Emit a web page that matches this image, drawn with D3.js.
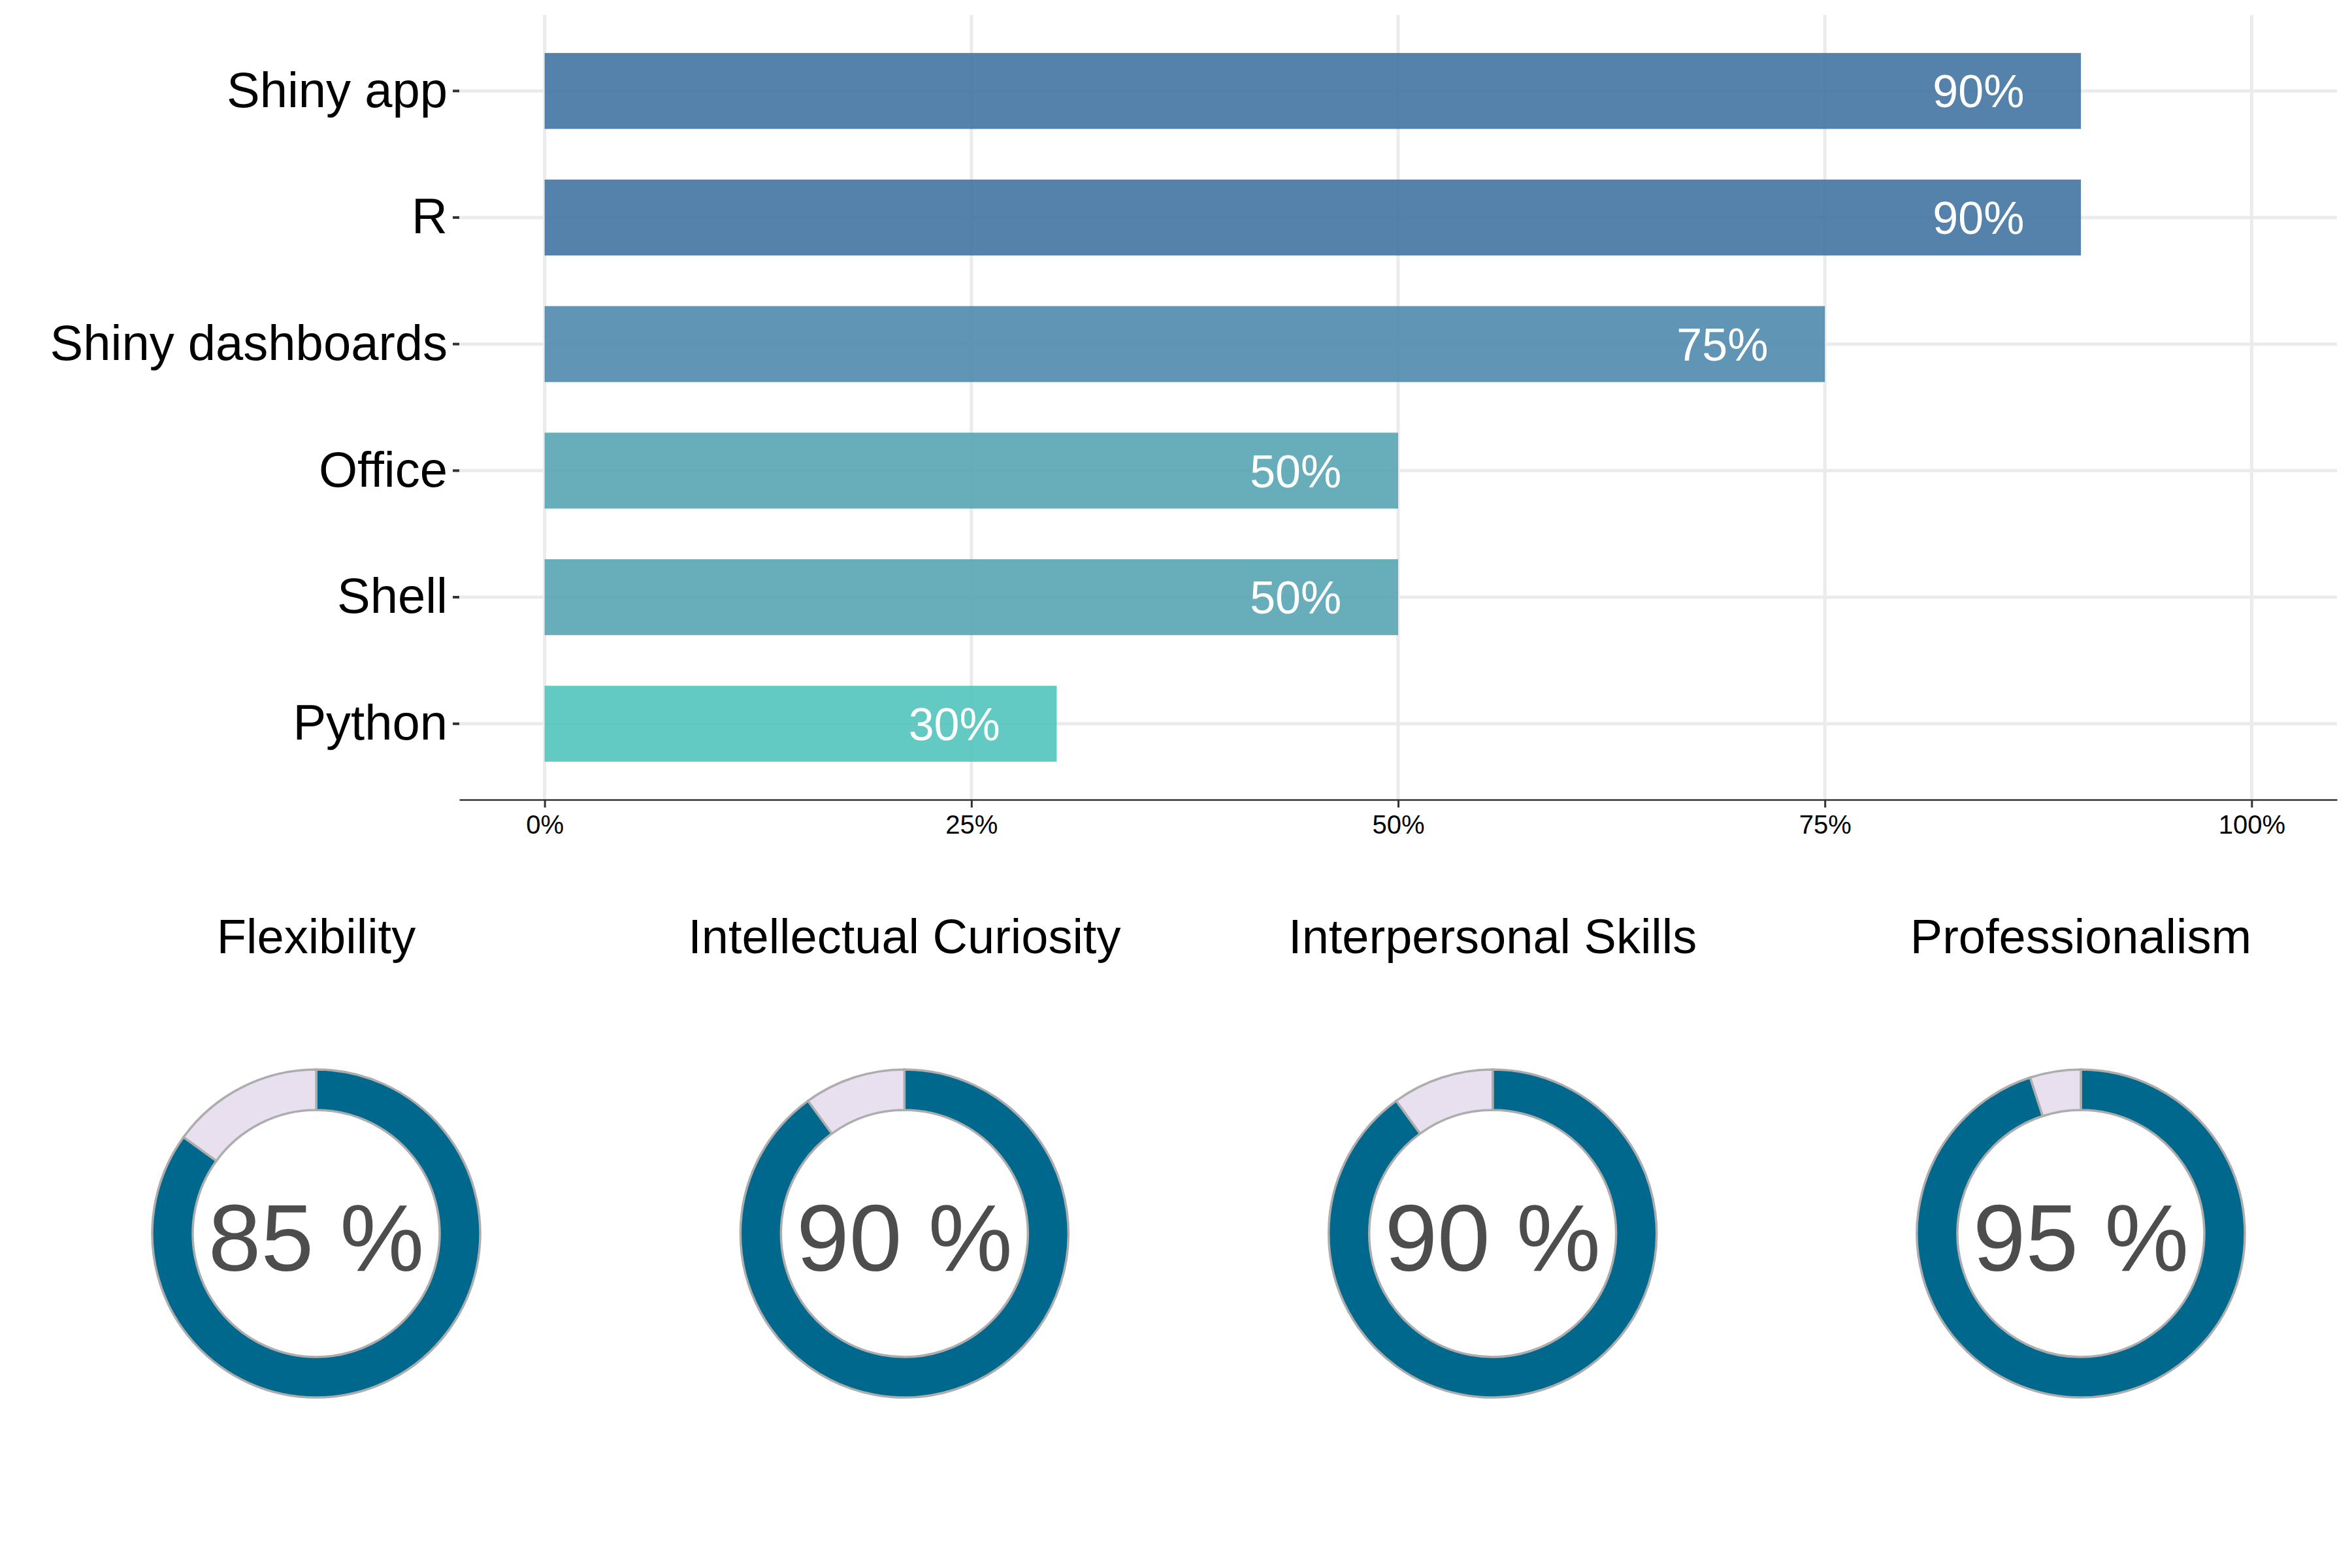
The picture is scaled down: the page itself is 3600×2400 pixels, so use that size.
<!DOCTYPE html>
<html>
<head>
<meta charset="utf-8">
<script src="https://cdn.jsdelivr.net/npm/d3@7"></script>
<style>
  html, body { margin: 0; padding: 0; background: #ffffff; }
  svg { display: block; font-family: "Liberation Sans", Arial, Helvetica, sans-serif; }
</style>
</head>
<body>
<svg id="chart" width="3600" height="2400"></svg>
<script>
// ---------------- data ----------------
const skills = ["Shiny app", "R", "Shiny dashboards", "Office", "Shell", "Python"];
const skillValues = [90, 90, 75, 50, 50, 30];
const xTickValues = [0, 25, 50, 75, 100];
const traits = ["Flexibility", "Intellectual Curiosity", "Interpersonal Skills", "Professionalism"];
const traitValues = [85, 90, 90, 95];

// ---------------- setup ----------------
const svg = d3.select("#chart");
svg.append("rect").attr("width", 3600).attr("height", 2400).attr("fill", "#ffffff");

const panel = { left: 703, right: 3577, top: 23, bottom: 1224 };

const x = d3.scaleLinear().domain([-5, 105]).range([panel.left, panel.right]);
const y = d3.scaleBand().domain(skills).range([panel.top, panel.bottom])
  .paddingInner(0.4).paddingOuter(0.3);
const color = d3.scaleLinear().domain([30, 50, 75, 90])
  .range(["#52C4BC", "#56A5B2", "#4F89AD", "#4374A1"]);

const bars = skills.map((s, i) => ({ name: s, value: skillValues[i] }));

// grid
const grid = svg.append("g");
grid.selectAll("line.v").data(xTickValues).join("line")
  .attr("x1", d => x(d)).attr("x2", d => x(d))
  .attr("y1", panel.top).attr("y2", panel.bottom)
  .attr("stroke", "#EBEBEB").attr("stroke-width", 5);
grid.selectAll("line.h").data(skills).join("line")
  .attr("x1", panel.left).attr("x2", panel.right)
  .attr("y1", d => y(d) + y.bandwidth() / 2).attr("y2", d => y(d) + y.bandwidth() / 2)
  .attr("stroke", "#EBEBEB").attr("stroke-width", 5);

// bars
svg.append("g").selectAll("rect").data(bars).join("rect")
  .attr("x", x(0))
  .attr("y", d => y(d.name))
  .attr("width", d => x(d.value) - x(0))
  .attr("height", y.bandwidth())
  .attr("fill", d => color(d.value))
  .attr("fill-opacity", 0.9);

// bar labels
svg.append("g").selectAll("text").data(bars).join("text")
  .attr("x", d => x(d.value - 6))
  .attr("y", d => y(d.name) + y.bandwidth() / 2)
  .attr("text-anchor", "middle")
  .attr("dy", "0.36em")
  .attr("font-size", 70)
  .attr("fill", "#ffffff")
  .text(d => d.value + "%");

// x axis
const xAxis = svg.append("g").attr("transform", `translate(0,${panel.bottom})`)
  .call(d3.axisBottom(x).tickValues(xTickValues).tickFormat(d => d + "%")
    .tickSize(12).tickSizeOuter(0).tickPadding(12));
xAxis.select(".domain").attr("stroke", "#333333").attr("stroke-width", 2.5);
xAxis.selectAll(".tick line").attr("stroke", "#333333").attr("stroke-width", 3);
xAxis.selectAll(".tick text").attr("font-size", 40).attr("fill", "#000000")
  .attr("font-family", "Liberation Sans, Arial, sans-serif");

// y axis
const yAxis = svg.append("g").attr("transform", `translate(${panel.left},0)`)
  .call(d3.axisLeft(y).tickSize(10).tickPadding(8));
yAxis.select(".domain").remove();
yAxis.selectAll(".tick line").attr("stroke", "#333333").attr("stroke-width", 4);
yAxis.selectAll(".tick text").attr("font-size", 76).attr("fill", "#000000")
  .attr("font-family", "Liberation Sans, Arial, sans-serif");

// ---------------- donuts ----------------
const cx = d3.scalePoint().domain(traits).range([484, 3185]);
const cy = 1888;
const pie = d3.pie().sort(null).value(d => d);
const arc = d3.arc().innerRadius(189).outerRadius(251);
const donutColors = ["#00678D", "#E9E0EF"];

traits.forEach((t, i) => {
  const g = svg.append("g").attr("transform", `translate(${cx(t)},${cy})`);
  g.selectAll("path").data(pie([traitValues[i], 100 - traitValues[i]])).join("path")
    .attr("d", arc)
    .attr("fill", (d, j) => donutColors[j])
    .attr("stroke", "#ADADAD")
    .attr("stroke-width", 3.5);
  g.append("text")
    .attr("x", 0).attr("y", 57)
    .attr("text-anchor", "middle")
    .attr("font-size", 145)
    .attr("fill", "#4D4D4D")
    .text(traitValues[i] + " %");
  svg.append("text")
    .attr("x", cx(t)).attr("y", 1459)
    .attr("text-anchor", "middle")
    .attr("font-size", 74)
    .attr("fill", "#000000")
    .text(t);
});
</script>
</body>
</html>
